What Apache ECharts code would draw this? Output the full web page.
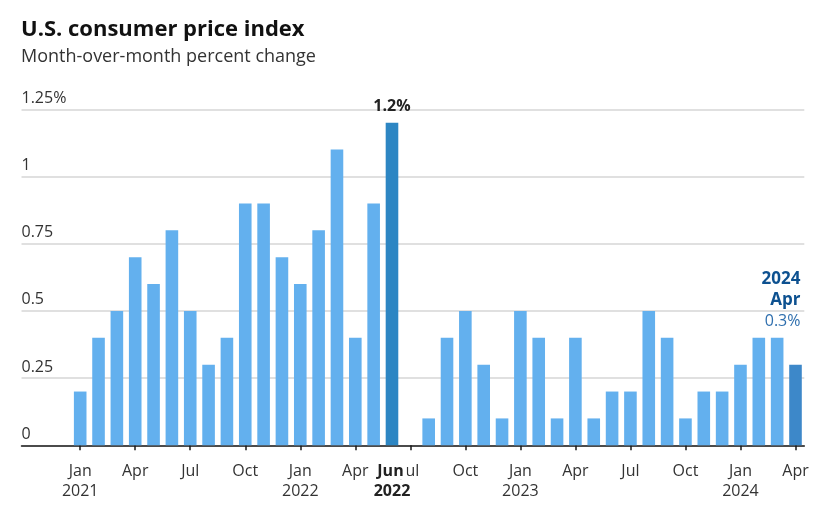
<!DOCTYPE html>
<html><head><meta charset="utf-8">
<script src="https://cdn.jsdelivr.net/npm/echarts@6/dist/echarts.min.js"></script>
<style>html,body{margin:0;padding:0;background:#fff}#c{width:822px;height:521px}</style>
</head><body><div id="c"></div>
<script>
const months = ['Jan','Feb','Mar','Apr','May','Jun','Jul','Aug','Sep','Oct','Nov','Dec',
  'Jan','Feb','Mar','Apr','May','Jun','Jul','Aug','Sep','Oct','Nov','Dec',
  'Jan','Feb','Mar','Apr','May','Jun','Jul','Aug','Sep','Oct','Nov','Dec',
  'Jan','Feb','Mar','Apr'];
const years = ['2021','2021','2021','2021','2021','2021','2021','2021','2021','2021','2021','2021',
  '2022','2022','2022','2022','2022','2022','2022','2022','2022','2022','2022','2022',
  '2023','2023','2023','2023','2023','2023','2023','2023','2023','2023','2023','2023',
  '2024','2024','2024','2024'];
const values = [0.2,0.4,0.5,0.7,0.6,0.8,0.5,0.3,0.4,0.9,0.9,0.7,
  0.6,0.8,1.1,0.4,0.9,1.2,0,0.1,0.4,0.5,0.3,0.1,
  0.5,0.4,0.1,0.4,0.1,0.2,0.2,0.5,0.4,0.1,0.2,0.2,
  0.3,0.4,0.4,0.3];
const yTicks = [0,0.25,0.5,0.75,1,1.25];
const peakIdx = 17;
const lastIdx = 39;

const FONT = 'Open Sans';
const tickIdx = [];
months.forEach((m,i)=>{ if (['Jan','Apr','Jul','Oct'].includes(m)) tickIdx.push(i); });
const labelIdx = tickIdx.slice(); labelIdx.push(peakIdx);

const data = values.map((v,i)=>{
  const d = {value:[i,v]};
  if (i===peakIdx) {
    d.itemStyle = {color:'#2d86c3'};
    d.label = {show:true, position:'top', distance:8, formatter: v.toFixed(1)+'%',
      fontFamily:FONT, fontWeight:'bold', fontSize:16, color:'#222'};
  }
  if (i===lastIdx) {
    d.itemStyle = {color:'#3d88c9'};
    d.label = {show:true, position:'top', distance:33, align:'right', offset:[5,0],
      formatter: '{b|'+years[i]+'}\n{b|'+months[i]+'}\n{n|'+v.toFixed(1)+'%}',
      rich:{b:{fontFamily:FONT,fontWeight:'bold',fontSize:17,color:'#0d5190',lineHeight:21,align:'right'},
            n:{fontFamily:FONT,fontSize:16,color:'#2f6fae',lineHeight:21,align:'right'}}};
  }
  return d;
});

const chart = echarts.init(document.getElementById('c'), null, {renderer:'canvas'});
chart.setOption({
  animation:false,
  backgroundColor:'#fff',
  title:[
    {text:'U.S. consumer price index', left:21, top:19, padding:0,
      textStyle:{fontFamily:FONT, fontWeight:'bold', fontSize:22, color:'#111'}},
    {text:'Month-over-month percent change', left:21, top:48, padding:0,
      textStyle:{fontFamily:FONT, fontWeight:'normal', fontSize:18, color:'#333'}}
  ],
  grid:{left:21.5, right:17.7, top:109.3, bottom:75.7, containLabel:false},
  xAxis:{
    type:'value', min:-3.2, max:39.48,
    splitLine:{show:false},
    axisLine:{show:true, lineStyle:{color:'#1a1a1a', width:1.5}},
    axisTick:{show:true, length:5, customValues:tickIdx, lineStyle:{color:'#1a1a1a', width:1.5}},
    axisLabel:{
      customValues:labelIdx, margin:16, fontFamily:FONT, fontSize:16, color:'#333', lineHeight:20,
      formatter:(val)=>{
        const i = Math.round(val);
        if (i===peakIdx) return '{hl|'+months[i]+'}\n{hy|'+years[i]+'}';
        return months[i] + (months[i]==='Jan' ? '\n'+years[i] : '');
      },
      rich:{
        hl:{fontFamily:FONT, fontWeight:'bold', fontSize:16, color:'#222', backgroundColor:'#fff', padding:[0,3,0,0], lineHeight:20},
        hy:{fontFamily:FONT, fontWeight:'bold', fontSize:16, color:'#222', lineHeight:20}
      }
    }
  },
  yAxis:{
    type:'value', min:0, max:1.25, interval:0.25,
    axisLine:{show:false}, axisTick:{show:false},
    splitLine:{show:true, lineStyle:{color:'#d6d6d6', width:1.5}},
    axisLabel:{inside:true, margin:0, align:'left', verticalAlign:'bottom', padding:[0,0,3,0],
      fontFamily:FONT, fontSize:16, color:'#333',
      formatter:(v)=> v===1.25 ? '1.25%' : String(v)}
  },
  series:[{
    type:'bar', data:data, barWidth:12.6,
    itemStyle:{color:'#63b0ee'},
    z:2
  }]
});
</script></body></html>
